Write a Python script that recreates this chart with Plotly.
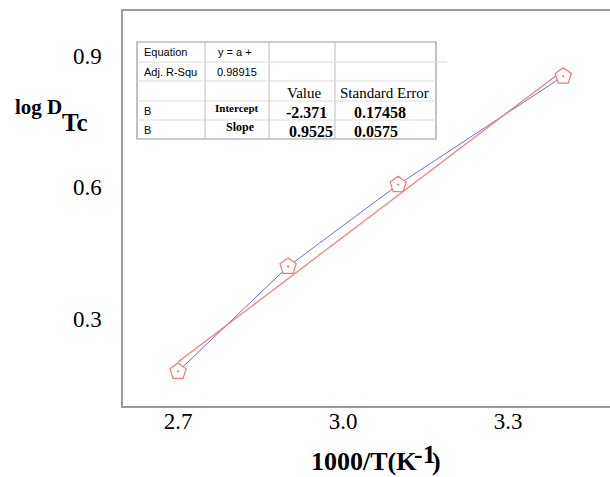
import plotly.graph_objects as go

# ---- data ----
inv_T = [2.7, 2.9, 3.1, 3.4]
log_D = [0.179, 0.419, 0.606, 0.854]
fit_intercept = -2.371
fit_slope = 0.9525
x_ticks = [2.7, 3.0, 3.3]
x_tick_labels = ["2.7", "3.0", "3.3"]
y_ticks = [0.3, 0.6, 0.9]
y_tick_labels = ["0.3", "0.6", "0.9"]

table_rows = [
    ["Equation", "y = a +", "", ""],
    ["Adj. R-Squ", "0.98915", "", ""],
    ["", "", "Value", "Standard Error"],
    ["B", "Intercept", "-2.371", "0.17458"],
    ["B", "Slope", "0.9525", "0.0575"],
]

# ---- layout geometry (pixels, reference coordinates) ----
W, H = 610, 477
ML, MT, MR, MB = 123, 11, 0, 71
PW, PH = W - ML - MR, H - MT - MB


def px(x):
    return (x - ML) / PW


def py(y):
    return (H - MB - y) / PH


RED = "rgb(245,120,120)"
BLUE = "rgb(110,110,215)"

fit_x = [min(inv_T), max(inv_T)]
fit_y = [fit_intercept + fit_slope * v for v in fit_x]

fig = go.Figure()
fig.add_trace(go.Scatter(x=inv_T, y=log_D, mode="lines",
                         line=dict(color=BLUE, width=1), showlegend=False))
fig.add_trace(go.Scatter(x=fit_x, y=fit_y, mode="lines",
                         line=dict(color=RED, width=1.2), showlegend=False))
fig.add_trace(go.Scatter(x=inv_T, y=log_D, mode="markers",
                         marker=dict(symbol="pentagon-dot", size=17, color="white",
                                     line=dict(color=RED, width=1.2)),
                         showlegend=False))

# ---- table (shapes + annotations) ----
col_x = [137, 205, 269, 335, 436]
row_y = [42, 62, 81, 101, 120, 139]
shapes = []
shapes.append(dict(type="rect", xref="paper", yref="paper",
                   x0=px(col_x[0]), x1=px(col_x[-1]), y0=py(row_y[-1]), y1=py(row_y[0]),
                   fillcolor="white", line=dict(color="#999", width=1.2), layer="above"))
for cx in col_x[1:-1]:
    shapes.append(dict(type="line", xref="paper", yref="paper",
                       x0=px(cx), x1=px(cx), y0=py(row_y[-1]), y1=py(row_y[0]),
                       line=dict(color="#bbb", width=1), layer="above"))
for i, ry in enumerate(row_y[1:-1]):
    x_end = 447 if i == 0 else col_x[-1]
    shapes.append(dict(type="line", xref="paper", yref="paper",
                       x0=px(col_x[0]), x1=px(x_end), y0=py(ry), y1=py(ry),
                       line=dict(color="#ddd", width=1), layer="above"))

annotations = []
sans = "Liberation Sans, Arial, sans-serif"
serif = "Liberation Serif, Times New Roman, serif"
cell_pos = {
    (0, 0): (142, 52, "left", sans, 11, False),
    (0, 1): (235, 52, "center", sans, 11, False),
    (1, 0): (142, 72, "left", sans, 11, False),
    (1, 1): (237, 72, "center", sans, 11, False),
    (2, 2): (304, 93, "center", serif, 15, False),
    (2, 3): (384, 93, "center", serif, 15, False),
    (3, 0): (142, 111, "left", sans, 11, False),
    (3, 1): (237, 108, "center", serif, 11, True),
    (3, 2): (284, 112, "left", serif, 16, True),
    (3, 3): (352, 112, "left", serif, 16, True),
    (4, 0): (142, 130, "left", sans, 11, False),
    (4, 1): (240, 127, "center", serif, 12, True),
    (4, 2): (287, 131, "left", serif, 16, True),
    (4, 3): (352, 131, "left", serif, 16, True),
}
for r, row in enumerate(table_rows):
    for c, txt in enumerate(row):
        if not txt:
            continue
        x, y, anc, fam, sz, bold = cell_pos[(r, c)]
        annotations.append(dict(
            x=px(x), y=py(y), xref="paper", yref="paper", showarrow=False,
            text=f"<b>{txt}</b>" if bold else txt, xanchor=anc, yanchor="middle",
            font=dict(family=fam, size=sz, color="black")))

# axis titles (pieces for the large sub/superscripts)
title_parts = [
    ("log D", 14, 107, "left", 21),
    ("Tc", 61, 122, "left", 25),
    ("1000/T(K", 418, 461, "right", 26),
    ("-1", 413, 454, "left", 26),
    (")", 431, 461, "left", 26),
]
for txt, x, y, anc, sz in title_parts:
    annotations.append(dict(
        x=px(x), y=py(y), xref="paper", yref="paper", showarrow=False,
        xanchor=anc, yanchor="middle", text=f"<b>{txt}</b>", borderpad=0,
        font=dict(family=serif, size=sz, color="black")))

fig.update_layout(
    width=W, height=H,
    margin=dict(l=ML, r=MR, t=MT, b=MB, pad=0),
    paper_bgcolor="white", plot_bgcolor="white",
    shapes=shapes, annotations=annotations,
    xaxis=dict(range=[2.6, 3.485], tickvals=x_ticks, ticktext=x_tick_labels,
               showgrid=False, zeroline=False, showline=True, mirror=True,
               linecolor="#999", linewidth=1.5, ticks="outside", ticklen=0,
               ticklabelstandoff=-6,
               tickfont=dict(family=serif, size=23, color="black")),
    yaxis=dict(range=[0.1, 1.003], tickvals=y_ticks, ticktext=y_tick_labels,
               showgrid=False, zeroline=False, showline=True, mirror=False,
               linecolor="#999", linewidth=1.5, ticks="outside", ticklen=0,
               ticklabelstandoff=15,
               tickfont=dict(family=serif, size=23, color="black")),
)

fig.write_html(
    "out.html",
    config={"displayModeBar": False},
    post_script="document.body.style.margin='0';"
                "document.documentElement.style.overflow='hidden';",
)
